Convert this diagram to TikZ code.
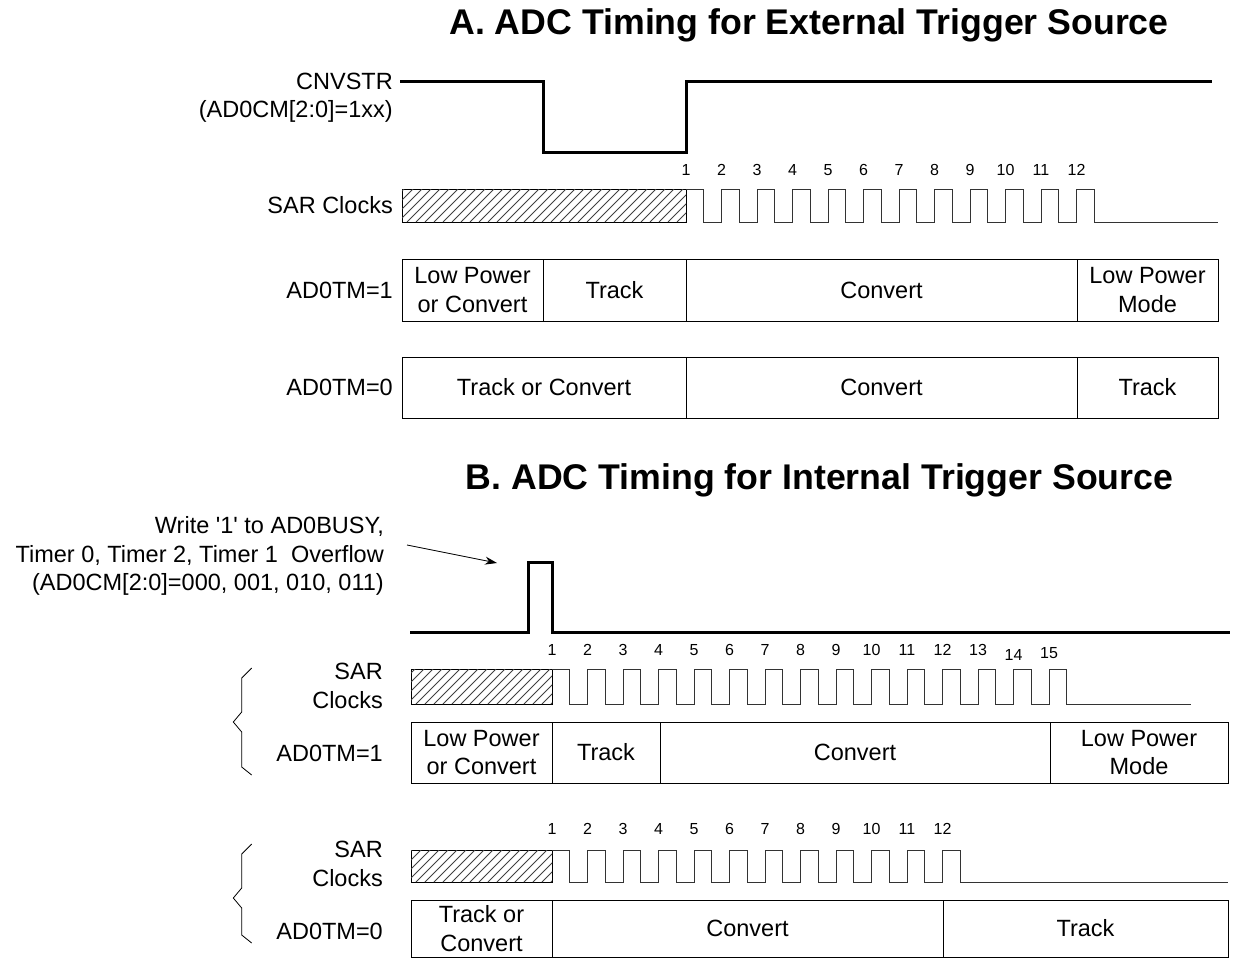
\documentclass[tikz,border=0pt]{standalone}
\usepackage{fontspec}
\setmainfont{Liberation Sans}
\newfontfamily\plainfont{Liberation Sans}
\usetikzlibrary{arrows.meta}
\begin{document}
\begin{tikzpicture}[x=1pt,y=-1pt,
  txt/.style={font=\fontsize{23.5}{28.5}\selectfont},
  lbl/.style={txt,anchor=east,inner sep=0pt,align=right},
  seg/.style={txt,draw,line width=1pt,inner sep=0pt,outer sep=0pt,align=center},
  hatch/.style={draw,line width=1pt,inner sep=0pt,outer sep=0pt},
  hl/.style={line width=0.8pt,draw=black!75},
  num/.style={inner sep=0pt,font=\fontsize{16}{18}\selectfont},
  clk/.style={line width=1pt,draw=black!80},
  wave/.style={line width=3pt,line join=miter},
  ttl/.style={inner sep=0pt,font=\fontsize{35.7}{42}\selectfont\bfseries},
  brc/.style={line width=0.8pt}]
\useasboundingbox (0,0) rectangle (1233,958);
\newcommand\hatchfill[2]{%
  \begin{scope}
    \clip (#1.south west) rectangle (#1.north east);
    \foreach \x in {-40,-31,...,#2} \draw[hl] ([xshift=\x]#1.south west) -- ++(40,-40);
  \end{scope}}

% ---------- A ----------
\node[ttl] (tA) at (809,25) {A. ADC Timing for External Trigger Source};
\node[lbl] (lcnv) at (393,97.5) {CNVSTR\\(AD0CM[2:0]=1xx)};
\draw[wave] (400,81) -- (543,81) -- (543,152) -- (686,152) -- (686,81) -- (1212,81);

\node[lbl] (lsarA) at (393,205) {SAR Clocks};
\node[hatch,minimum width=284,minimum height=33] (hA) at (544,205.5) {};
\hatchfill{hA}{290}
\draw[clk] (hA.north east) \foreach \i in {1,...,11}{ -- ++(17.5,0) -- ++(0,33) -- ++(18,0) -- ++(0,-33)} -- ++(17.5,0) -- ++(0,33) -- (1218,222);
\foreach \k in {1,...,12} \node[num] (nA\k) at ({686+(\k-1)*35.5},170) {\k};

\node[lbl] (ltmA1) at (393,290) {AD0TM=1};
\node[seg,minimum width=141,minimum height=62] (a11) at (472.5,290) {Low Power\\or Convert};
\node[seg,minimum width=143,minimum height=62] (a12) at (614.5,290) {Track};
\node[seg,minimum width=391,minimum height=62] (a13) at (881.5,290) {Convert};
\node[seg,minimum width=141,minimum height=62] (a14) at (1147.5,290) {Low Power\\Mode};

\node[lbl] (ltmA0) at (393,387.5) {AD0TM=0};
\node[seg,minimum width=284,minimum height=61] (a01) at (544,387.5) {Track or Convert};
\node[seg,minimum width=391,minimum height=61] (a02) at (881.5,387.5) {Convert};
\node[seg,minimum width=141,minimum height=61] (a03) at (1147.5,387.5) {Track};

% ---------- B ----------
\node[ttl] (tB) at (819.5,480) {B. ADC Timing for Internal Trigger Source};
\node[lbl] (lwr) at (384,556) {Write {\plainfont'}1{\plainfont'} to AD0BUSY,\\Timer 0, Timer 2, Timer 1\ \ Overflow\\(AD0CM[2:0]=000, 001, 010, 011)};
\coordinate (arS) at (407,545);
\coordinate (arE) at (497,563);
\draw[-{Stealth[length=12pt,width=8pt]},line width=0.8pt] (arS) -- (arE);
\draw[wave] (410,632) -- (528,632) -- (528,562) -- (552,562) -- (552,632) -- (1230,632);

% B, AD0TM=1
\draw[brc] (251.7,668) -- (241.7,678) -- (241.7,712) -- (233.3,722) -- (241.7,732) -- (241.7,767) -- (251.7,775);
\node[lbl] (lsarB1) at (383,686) {SAR\\Clocks};
\node[hatch,minimum width=141,minimum height=35] (hB1) at (481.5,686.5) {};
\hatchfill{hB1}{150}
\draw[clk] (hB1.north east) \foreach \i in {1,...,14}{ -- ++(17.5,0) -- ++(0,35) -- ++(18,0) -- ++(0,-35)} -- ++(17.5,0) -- ++(0,35) -- (1191,704);
\foreach \k in {1,...,13} \node[num] (nB\k) at ({552+(\k-1)*35.5},650) {\k};
\node[num] (nB14) at ({552+13*35.5},655) {14};
\node[num] (nB15) at ({552+14*35.5},653) {15};

\node[lbl] (ltmB1) at (383,753) {AD0TM=1};
\node[seg,minimum width=141,minimum height=61] (b11) at (481.5,752.5) {Low Power\\or Convert};
\node[seg,minimum width=108,minimum height=61] (b12) at (606,752.5) {Track};
\node[seg,minimum width=390,minimum height=61] (b13) at (855,752.5) {Convert};
\node[seg,minimum width=178,minimum height=61] (b14) at (1139,752.5) {Low Power\\Mode};

% B, AD0TM=0
\draw[brc] (251.7,844) -- (241.7,854) -- (241.7,888) -- (233.3,898) -- (241.7,908) -- (241.7,935) -- (251.7,943);
\node[lbl] (lsarB0) at (383,864) {SAR\\Clocks};
\node[hatch,minimum width=141,minimum height=32] (hB0) at (481.5,866) {};
\hatchfill{hB0}{150}
\draw[clk] (hB0.north east) \foreach \i in {1,...,11}{ -- ++(17.5,0) -- ++(0,32) -- ++(18,0) -- ++(0,-32)} -- ++(17.5,0) -- ++(0,32) -- (1228,882);
\foreach \k in {1,...,12} \node[num] (nC\k) at ({552+(\k-1)*35.5},829) {\k};

\node[lbl] (ltmB0) at (383,931) {AD0TM=0};
\node[seg,minimum width=141,minimum height=57] (b01) at (481.5,928.5) {Track or\\Convert};
\node[seg,minimum width=391,minimum height=57] (b02) at (747.5,928.5) {Convert};
\node[seg,minimum width=285,minimum height=57] (b03) at (1085.5,928.5) {Track};
\end{tikzpicture}
\end{document}
